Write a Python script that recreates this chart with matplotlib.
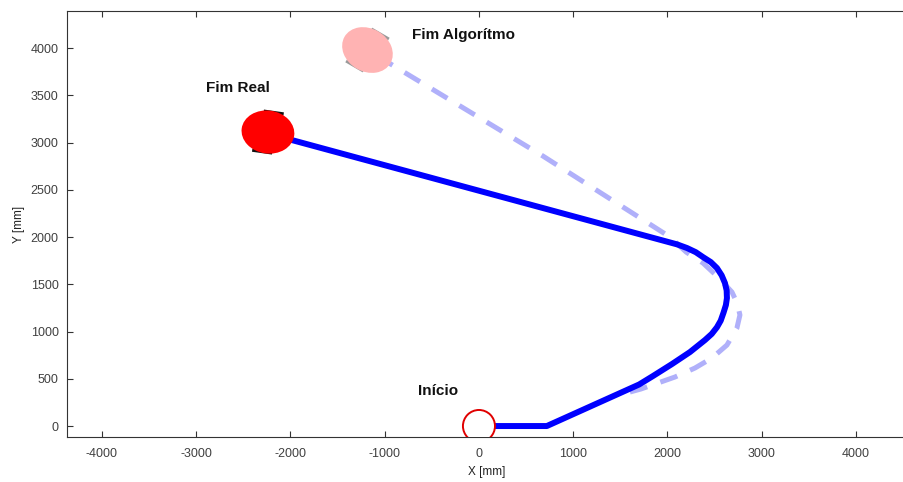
import matplotlib
matplotlib.use("Agg")
import matplotlib.pyplot as plt
from matplotlib.patches import Ellipse, Circle
import numpy as np

plt.rcParams['font.family'] = ['Liberation Sans', 'DejaVu Sans']
plt.rcParams['axes.unicode_minus'] = False

# Real trajectory (solid)
real_x = [0, 720, 1700, 1846, 2048, 2239, 2398, 2470, 2525, 2565, 2595, 2620, 2631, 2628, 2610, 2575, 2525, 2460, 2377, 2300, 2207, 2100, -1984, -2239]
real_y = [0, 0, 440, 529, 656, 783, 910, 975, 1045, 1115, 1200, 1280, 1354, 1435, 1513, 1595, 1672, 1735, 1788, 1840, 1884, 1923, 3026, 3111]

# Algorithm trajectory (dashed)
alg_x = [1602, 1719, 2080, 2292, 2472, 2631, 2737, 2769, 2740, 2684, 2536, 2377, 2200, 2027, 679, -1183]
alg_y = [360, 392, 519, 614, 720, 857, 1037, 1175, 1300, 1418, 1577, 1725, 1840, 2000, 2857, 3979]

# Robot end poses: x, y, heading angle (deg)
real_end = (-2239, 3111, -8)
alg_end = (-1183, 3979, -30)
robot_len = 562
robot_wid = 455

labels = ["Fim Algorítmo", "Fim Real", "Início"]
label_x = [-711, -2897, -647]
label_y = [4138, 3577, 370]

xticks = [-4000, -3000, -2000, -1000, 0, 1000, 2000, 3000, 4000]
yticks = [0, 500, 1000, 1500, 2000, 2500, 3000, 3500, 4000]

W, H = 904, 482
fig = plt.figure(figsize=(W / 100, H / 100), dpi=100)
ax = fig.add_axes([67 / W, 45 / H, (906 - 67) / W, 426 / H])
ax.set_xlim(-4371, 4531)
ax.set_ylim(-116, 4392)

ax.plot(alg_x, alg_y, color='#b0b0fa', lw=3.6, dashes=(3.6, 2.8),
        dash_capstyle='butt', dash_joinstyle='round', zorder=2)
ax.plot(real_x, real_y, color='#0000ff', lw=4.3, solid_capstyle='butt',
        solid_joinstyle='round', zorder=3)


def robot(pose, body_color, wheel_color, z):
    x, y, ang = pose
    t = np.deg2rad(ang)
    hx, hy = np.cos(t), np.sin(t)
    px, py = -hy, hx
    off = robot_wid * 0.47
    half = robot_len * 0.19
    for s in (1, -1):
        cx = x + s * off * px + s * 0.3 * half * hx
        cy = y + s * off * py + s * 0.3 * half * hy
        ax.plot([cx - half * hx, cx + half * hx],
                [cy - half * hy, cy + half * hy],
                color=wheel_color, lw=2.2, solid_capstyle='butt', zorder=z)
    ax.add_patch(Ellipse((x, y), robot_len, robot_wid, angle=ang,
                         facecolor=body_color, edgecolor='none', zorder=z + 0.5))


robot(real_end, '#ff0000', '#111111', 4)
robot(alg_end, '#ffb3b3', '#9a9a9a', 4)

ax.add_patch(Circle((0, 0), 170, facecolor='white', edgecolor='#e00000',
                    lw=1.4, zorder=6))

for t, lx, ly in zip(labels, label_x, label_y):
    ax.text(lx, ly, t, fontsize=11, fontweight='bold', color='#111111',
            ha='left', va='center', zorder=7)

ax.set_xticks(xticks)
ax.set_yticks(yticks)
ax.tick_params(direction='in', length=4, width=0.8, colors='#333333',
               labelcolor='#404040', labelsize=9, top=True, right=False)
ax.tick_params(axis='x', pad=8)
ax.tick_params(axis='y', pad=6)
for s in ('left', 'bottom', 'top'):
    ax.spines[s].set_color('#333333')
    ax.spines[s].set_linewidth(0.8)
ax.spines['right'].set_visible(False)

ax.set_xlabel('X [mm]', fontsize=8.5, color='#222222', labelpad=4)
ax.set_ylabel('Y [mm]', fontsize=8.5, color='#222222', labelpad=4)

fig.savefig('out.png', dpi=100)
